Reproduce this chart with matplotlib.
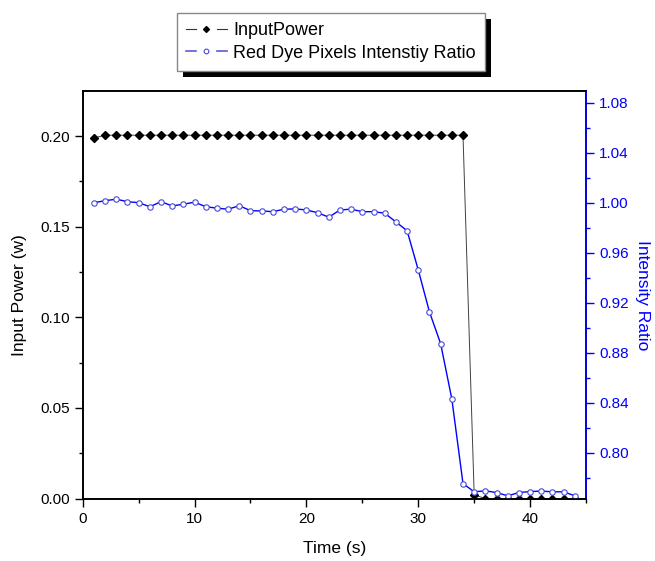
import matplotlib
matplotlib.use("Agg")
import matplotlib.pyplot as plt
from matplotlib.ticker import MultipleLocator, FixedLocator
from matplotlib.patches import Rectangle
from matplotlib.lines import Line2D
from matplotlib.legend_handler import HandlerBase

plt.rcParams['font.family'] = ['Liberation Sans', 'DejaVu Sans']

time_s = list(range(1, 45))
input_power = [0.199] + [0.2005] * 33 + [0.002] + [0.0] * 9
intensity_ratio = [1.0002, 1.0018, 1.0030, 1.0010, 1.0002, 0.9970, 1.0010, 0.9976,
                   0.9990, 1.0006, 0.9970, 0.9958, 0.9950, 0.9978, 0.9938, 0.9936,
                   0.9930, 0.9950, 0.9952, 0.9944, 0.9922, 0.9886, 0.9944, 0.9950,
                   0.9930, 0.9930, 0.9918, 0.9848, 0.9778, 0.9464, 0.9128, 0.8874,
                   0.8432, 0.7754, 0.7688, 0.7696, 0.7682, 0.7656, 0.7682, 0.7690,
                   0.7694, 0.7688, 0.7688, 0.7656]

left_ticks = [0.00, 0.05, 0.10, 0.15, 0.20]
right_ticks = [0.80, 0.84, 0.88, 0.92, 0.96, 1.00, 1.04, 1.08]
x_ticks = [0, 10, 20, 30, 40]
series_labels = ['InputPower', 'Red Dye Pixels Intenstiy Ratio']

blue = '#0000ff'
black_line = '#404040'
circle_edge = '#4a4ad8'


class GapLineHandler(HandlerBase):
    """Legend entry drawn as '— marker —' with a gap around the marker."""

    def __init__(self, gap=7.5, **kw):
        super().__init__(**kw)
        self.gap = gap

    def create_artists(self, legend, orig_handle, xdescent, ydescent, width, height,
                       fontsize, trans):
        y = (height - ydescent) / 2
        x0 = -xdescent
        x1 = -xdescent + width
        xc = (x0 + x1) / 2
        kw = dict(color=orig_handle.get_color(), lw=orig_handle.get_linewidth(),
                  transform=trans)
        left = Line2D([x0, xc - self.gap], [y, y], **kw)
        right = Line2D([xc + self.gap, x1], [y, y], **kw)
        mk = Line2D([xc], [y], ls='none', marker=orig_handle.get_marker(),
                    ms=orig_handle.get_markersize(),
                    mfc=orig_handle.get_markerfacecolor(),
                    mec=orig_handle.get_markeredgecolor(),
                    mew=orig_handle.get_markeredgewidth(), transform=trans)
        return [left, right, mk]


fig = plt.figure(figsize=(6.55, 5.61), dpi=100)
ax = fig.add_axes([0.1263, 0.1113, 0.8947 - 0.1263, 0.8378 - 0.1113])
ax2 = ax.twinx()

ax.plot(time_s, input_power, color=black_line, lw=0.7, marker='D', ms=3.8,
        mfc='black', mec='black')
ax2.plot(time_s, intensity_ratio, color=blue, lw=1.0, marker='o', ms=3.9,
         mfc='white', mec=circle_edge, mew=0.8)

ax.set_xlim(0, 45)
ax.set_ylim(0, 0.2249)
ax2.set_ylim(0.7634, 1.0896)

ax.xaxis.set_major_locator(FixedLocator(x_ticks))
ax.xaxis.set_minor_locator(MultipleLocator(5))
ax.yaxis.set_major_locator(FixedLocator(left_ticks))
ax.yaxis.set_minor_locator(MultipleLocator(0.025))
ax2.yaxis.set_major_locator(FixedLocator(right_ticks))
ax2.yaxis.set_minor_locator(MultipleLocator(0.02))
ax.set_xticklabels([f'{t:d}' for t in x_ticks])
ax.set_yticklabels([f'{t:.2f}' for t in left_ticks])
ax2.set_yticklabels([f'{t:.2f}' for t in right_ticks])

for a in (ax, ax2):
    for s in a.spines.values():
        s.set_linewidth(1.2)
ax2.spines['right'].set_color(blue)

ax.tick_params(axis='both', which='major', direction='out', length=5.5, width=1.0,
               labelsize=11, pad=4)
ax.tick_params(axis='both', which='minor', direction='out', length=3, width=1.0)
ax2.tick_params(axis='y', which='major', direction='out', length=5.5, width=1.0,
                labelsize=11, pad=4, colors=blue)
ax2.tick_params(axis='y', which='minor', direction='out', length=3, width=1.0, colors=blue)

ax.set_xlabel('Time (s)', fontsize=12.5, labelpad=11)
ax.set_ylabel('Input Power (w)', fontsize=12.5, labelpad=9)
ax2.set_ylabel('Intensity Ratio', fontsize=12.5, color=blue, rotation=-90, labelpad=15)

h1 = Line2D([], [], color='#333333', lw=0.8, marker='D', ms=3.0, mfc='black', mec='black')
h2 = Line2D([], [], color='#5a5ad6', lw=1.2, marker='o', ms=3.4, mfc='white',
            mec=circle_edge, mew=0.8)

leg = fig.legend(handles=[h1, h2], labels=series_labels, loc='upper left',
                 handler_map={h1: GapLineHandler(), h2: GapLineHandler()},
                 bbox_to_anchor=(177 / 655, 1 - 13 / 561),
                 fontsize=13, frameon=True, fancybox=False,
                 handlelength=2.25, handletextpad=0.35, labelspacing=0.32,
                 borderpad=0.5, borderaxespad=0.0)
leg.get_frame().set_edgecolor('#888888')
leg.get_frame().set_linewidth(1.0)
leg.get_frame().set_facecolor('white')
leg.get_frame().set_alpha(1)
leg.set_zorder(10)

fig.canvas.draw()
bb = leg.get_window_extent()
W, H = fig.bbox.width, fig.bbox.height
off = 6.5
shadow = Rectangle(((bb.x0 + off) / W, (bb.y0 - off) / H), bb.width / W, bb.height / H,
                   transform=fig.transFigure, facecolor='black', edgecolor='none', zorder=9)
fig.patches.append(shadow)

fig.savefig('out.png', dpi=100)
